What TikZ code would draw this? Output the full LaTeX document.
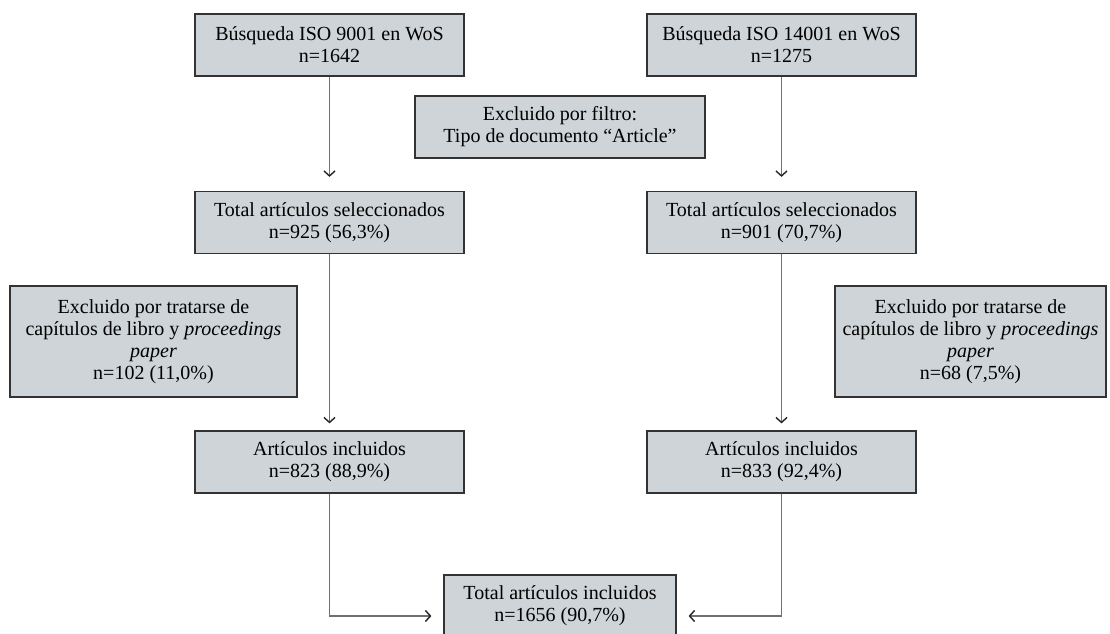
\documentclass[tikz,border=0pt]{standalone}
\usepackage{fontspec}
\setmainfont{Liberation Serif}
\usetikzlibrary{arrows.meta}
\definecolor{boxgray}{RGB}{206,212,216}
\definecolor{linegray}{RGB}{112,112,112}

\begin{document}
\begin{tikzpicture}[x=0.5pt, y=-0.5pt,
  box/.style={draw=black!80, fill=boxgray, line width=0.6pt, align=center,
    font=\fontsize{10}{11}\selectfont, inner sep=2pt, minimum height=31pt},
  arr/.style={->, draw=linegray, line width=0.7pt, shorten >=#1},
  arr/.default=5pt,
  >={Straight Barb[length=2.5pt, width=5.5pt, color=black!85]}]
  \useasboundingbox (0,0) rectangle (1110,633);
  % Search boxes
  \node[box, minimum width=134.5pt] (s9) at (329.5,45) {Búsqueda ISO 9001 en WoS\\n=1642};
  \node[box, minimum width=134.5pt] (s14) at (781.5,45) {Búsqueda ISO 14001 en WoS\\n=1275};
  % Filter on document type
  \node[box, minimum width=145pt] (filtro) at (560,127) {Excluido por filtro:\\Tipo de documento “Article”};
  % Selected articles
  \node[box, minimum width=134.5pt] (sel9) at (329.5,222.5) {Total artículos seleccionados\\n=925 (56,3\%)};
  \node[box, minimum width=134.5pt] (sel14) at (781.5,222.5) {Total artículos seleccionados\\n=901 (70,7\%)};
  % Excluded chapters and proceedings
  \node[box, minimum width=143.5pt, minimum height=55.5pt] (exc9) at (153.5,341.5)
    {Excluido por tratarse de\\capítulos de libro y \textit{proceedings}\\\textit{paper}\\n=102 (11,0\%)};
  \node[box, minimum width=135.5pt, minimum height=55.5pt] (exc14) at (970.5,341.5)
    {Excluido por tratarse de\\capítulos de libro y \textit{proceedings}\\\textit{paper}\\n=68 (7,5\%)};
  % Included articles
  \node[box, minimum width=134.5pt] (inc9) at (329.5,462) {Artículos incluidos\\n=823 (88,9\%)};
  \node[box, minimum width=134.5pt] (inc14) at (781.5,462) {Artículos incluidos\\n=833 (92,4\%)};
  % Total
  \node[box, minimum width=116pt] (total) at (560,606) {Total artículos incluidos\\n=1656 (90,7\%)};
  % Connectors
  \draw[arr=7pt] (s9) -- (sel9);
  \draw[arr=7pt] (s14) -- (sel14);
  \draw[arr=3.5pt] (sel9) -- (inc9);
  \draw[arr=3.5pt] (sel14) -- (inc14);
  \draw[arr=6pt] (inc9.south) |- ([yshift=-5pt]total.west);
  \draw[arr=6pt] (inc14.south) |- ([yshift=-5pt]total.east);
\end{tikzpicture}
\end{document}
